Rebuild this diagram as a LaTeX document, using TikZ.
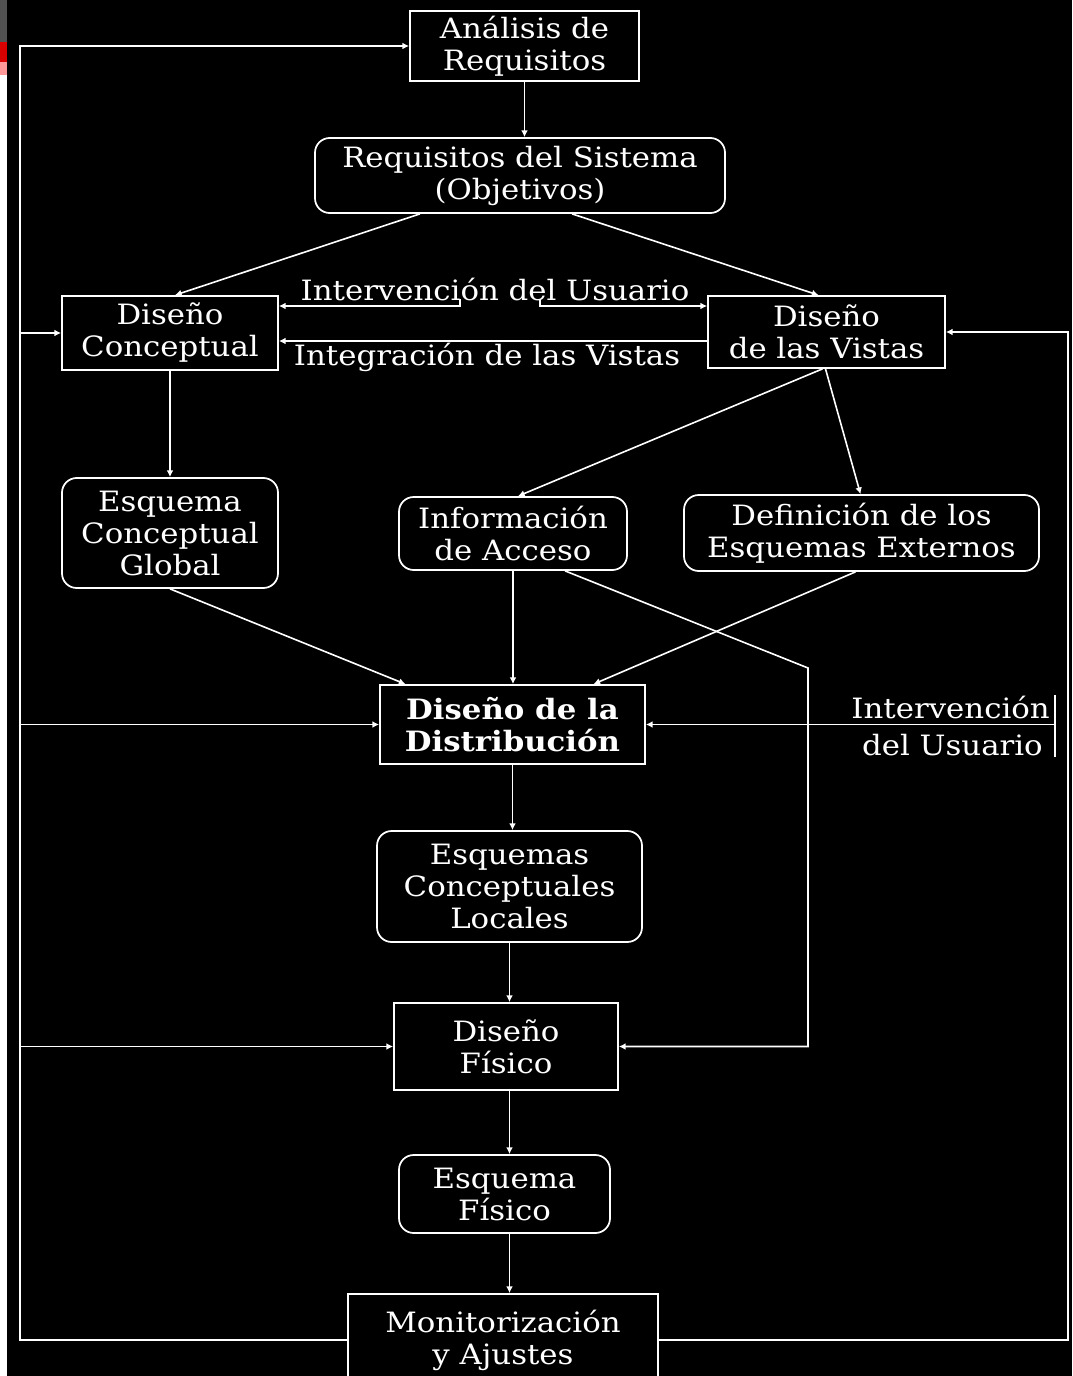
\documentclass[tikz,border=0pt]{standalone}
\usepackage{fontspec}
\setmainfont{DejaVu Serif}[FakeStretch=1.1]
\usetikzlibrary{arrows.meta,calc}
\tikzset{
  sqbox/.style={draw=white,line width=1.3pt,fill=black},
  rbox/.style={draw=white,line width=1.3pt,fill=black,rounded corners=11pt},
  conn/.style={draw=white,line width=1.2pt},
  arr/.style={conn,-{Latex[length=5pt,width=5pt]}},
  lbl/.style={text=white,font=\fontsize{21pt}{24pt}\selectfont,align=center,inner sep=0pt}
}
\begin{document}
\begin{tikzpicture}[x=0.75pt,y=-0.75pt,every node/.style={lbl}]
\fill[black] (0,0) rectangle (1072,1376);
\useasboundingbox (0,0) rectangle (1072,1376);
% left edge strip
\fill[black!68] (0,0) rectangle (7,42);
\fill[red!85!black] (0,42) rectangle (7,62);
\fill[red!40!white] (0,62) rectangle (7,75);
\fill[white] (0,75) rectangle (7,1376);

% nodes
\node[sqbox,minimum width=171.75pt,minimum height=52.5pt] (ana) at (524.5,46) {Análisis de\\Requisitos};
\node[rbox,minimum width=307.5pt,minimum height=56.25pt] (req) at (520,175.5) {Requisitos del Sistema\\(Objetivos)};
\node[sqbox,minimum width=162pt,minimum height=55.5pt] (dc) at (170,333) {Diseño\\Conceptual};
\node[sqbox,minimum width=177.75pt,minimum height=54pt] (dv) at (826.5,332) {Diseño\\de las Vistas};
\node[rbox,minimum width=162pt,minimum height=82.5pt] (ecg) at (170,533) {Esquema\\Conceptual\\Global};
\node[rbox,minimum width=171pt,minimum height=54.75pt] (ia) at (513,533.5) {Información\\de Acceso};
\node[rbox,minimum width=266.25pt,minimum height=57pt] (def) at (861.5,533) {Definición de los\\Esquemas Externos};
\node[sqbox,minimum width=198.75pt,minimum height=59.25pt,font=\fontsize{21pt}{24pt}\selectfont\bfseries] (dd) at (512.5,724.5) {Diseño de la\\Distribución};
\node[rbox,minimum width=198.75pt,minimum height=83.25pt] (ecl) at (509.5,886.5) {Esquemas\\Conceptuales\\Locales};
\node[sqbox,minimum width=168pt,minimum height=65.25pt] (df) at (506,1046.5) {Diseño\\Físico};
\node[rbox,minimum width=158.25pt,minimum height=58.5pt] (ef) at (504.5,1194) {Esquema\\Físico};
\node[sqbox,minimum width=232.5pt,minimum height=69pt] (mon) at (503,1340) {Monitorización\\y Ajustes};

% labels
\node (ilab) at (495,290) {Intervención del Usuario};
\node (glab) at (487,357) {Integración de las Vistas};
\node[anchor=east] (rlab1) at (1050,707) {Intervención};
\node[anchor=east] (rlab2) at (1043,745) {del Usuario};

% left feedback loop
\coordinate (lb) at (20,1340);
\coordinate (lt) at (20,46);
\draw[arr] (mon.west) -- (lb) -- (lt) -- (ana.west);
\draw[arr] (lt |- dc.west) -- (dc.west);
\draw[arr] (lt |- dd.west) -- (dd.west);
\draw[arr] (lt |- df.west) -- (df.west);

% right feedback loop
\coordinate (rb) at (1068,1340);
\coordinate (rt) at (1068,332);
\draw[arr] (mon.east) -- (rb) -- (rt) -- (dv.east);

% top flow
\draw[arr] (ana.south) -- (ana.south |- req.north);
\draw[arr] ($(req.south)+(-100,0)$) -- ($(dc.north)+(5,0)$);
\draw[arr] ($(req.south)+(52,0)$) -- ($(dv.north)+(-8,0)$);

% Intervención del Usuario bracket
\coordinate (i1t) at (460,299);
\coordinate (i1) at (460,306);
\coordinate (i2t) at (540,299);
\coordinate (i2) at (540,306);
\draw[arr] (i1t) -- (i1) -- (i1 -| dc.east);
\draw[arr] (i2t) -- (i2) -- (i2 -| dv.west);

% Integración de las Vistas
\coordinate (g1) at (600,341);
\draw[arr] (g1 -| dv.west) -- (g1 -| dc.east);

% middle flow
\draw[arr] (dc.south) -- (dc.south |- ecg.north);
\draw[arr] ($(dv.south)+(-4,0)$) -- ($(ia.north)+(5,0)$);
\draw[arr] ($(dv.south)+(-1,0)$) -- ($(def.north)+(-1,0)$);
\draw[arr] (ecg.south) -- ($(dd.north)+(-107,0)$);
\draw[arr] (ia.south) -- (ia.south |- dd.north);
\draw[arr] ($(def.south)+(-6,0)$) -- ($(dd.north)+(81,0)$);
\coordinate (c1) at (808,668);
\draw[arr] ($(ia.south)+(52,0)$) -- (c1) |- (df.east);

% right intervention
\coordinate (v1) at (1055,695);
\coordinate (v2) at (1055,757);
\draw[conn] (v1) -- (v2);
\draw[arr] (v1 |- dd.east) -- (dd.east);

% lower flow
\draw[arr] (dd.south) -- (dd.south |- ecl.north);
\draw[arr] (ecl.south) -- (ecl.south |- df.north);
\draw[arr] (ecl.south |- df.south) -- (ecl.south |- ef.north);
\draw[arr] (ecl.south |- ef.south) -- (ecl.south |- mon.north);
\end{tikzpicture}
\end{document}
